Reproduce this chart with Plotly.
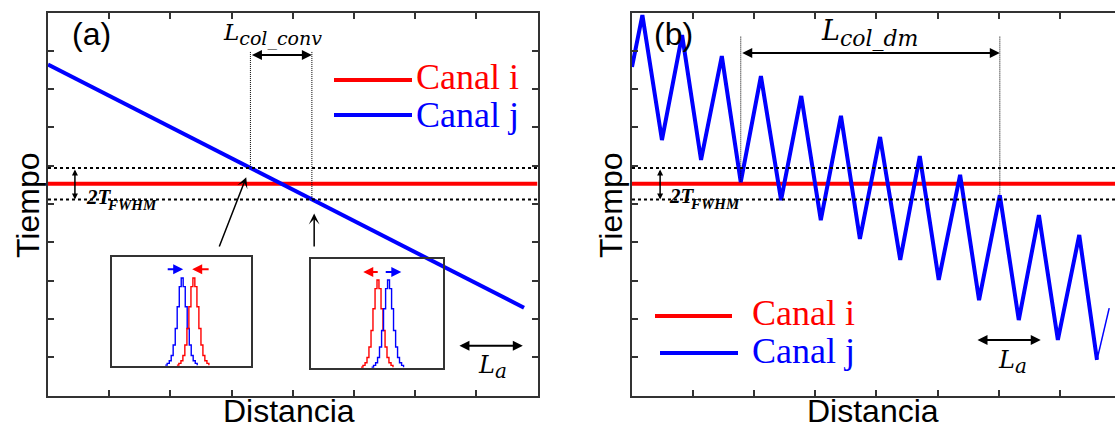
import plotly.graph_objects as go

W, H = 1115, 432

# ---------------- values ----------------
x_range_a = [0, 8]
x_range_b = [0, 7.905]
y_range = [0, 10]

canal_i_level = 5.53          # Canal i (constant time)
fwhm_half = 0.41              # half of the 2*T_FWHM band

# (a) conventional dispersion: Canal j is a straight line
canal_j_a_x = [0.0, 7.78]
canal_j_a_y = [8.64, 2.29]

# (b) dispersion-managed: Canal j zig-zags
canal_j_b_x = [0.00, 0.17, 0.49, 0.82, 1.13, 1.47, 1.78, 2.11, 2.44, 2.77, 3.09, 3.42, 3.73,
               4.06, 4.39, 4.71, 5.02, 5.37, 5.68, 6.02, 6.33, 6.66, 6.97, 7.32, 7.61]
canal_j_b_y = [8.58, 9.93, 6.67, 9.41, 6.15, 8.86, 5.57, 8.34, 5.10, 7.82, 4.58, 7.30, 4.09,
               6.75, 3.54, 6.25, 3.02, 5.76, 2.49, 5.23, 1.97, 4.71, 1.45, 4.19, 0.93]
canal_j_b_tail_x = [7.61, 7.81]
canal_j_b_tail_y = [0.93, 2.28]

# pulse shape used in the two small insets
pulse_offsets = [-1.15, -1.01, -0.86, -0.72, -0.58, -0.43, -0.29, -0.14, 0.0,
                 0.14, 0.29, 0.43, 0.58, 0.72, 0.86, 1.01, 1.15]
pulse_profile = [0.0, 0.02, 0.05, 0.11, 0.23, 0.42, 0.67, 0.9, 1.0,
                 0.9, 0.67, 0.42, 0.23, 0.11, 0.05, 0.02, 0.0]
inset1_center_j, inset1_center_i = -0.02, 0.82
inset2_center_i, inset2_center_j = 0.0, 0.76

RED = "#ff0000"
BLUE = "#0000ff"
AX = "#333333"
SANS = "Liberation Sans"
SERIF = "Liberation Serif"
MATH = "DejaVu Serif"

fig = go.Figure()

# ---- panel (a) ----
fig.add_trace(go.Scatter(x=list(x_range_a), y=[canal_i_level] * 2, mode="lines",
                         line=dict(color=RED, width=4), xaxis="x", yaxis="y"))
fig.add_trace(go.Scatter(x=canal_j_a_x, y=canal_j_a_y, mode="lines",
                         line=dict(color=BLUE, width=4), xaxis="x", yaxis="y"))

# ---- panel (b) ----
fig.add_trace(go.Scatter(x=list(x_range_b), y=[canal_i_level] * 2, mode="lines",
                         line=dict(color=RED, width=4), xaxis="x2", yaxis="y2"))
fig.add_trace(go.Scatter(x=canal_j_b_x, y=canal_j_b_y, mode="lines",
                         line=dict(color=BLUE, width=4), xaxis="x2", yaxis="y2"))
fig.add_trace(go.Scatter(x=canal_j_b_tail_x, y=canal_j_b_tail_y, mode="lines",
                         line=dict(color=BLUE, width=1.5), xaxis="x2", yaxis="y2"))

# ---- insets with the two pulses ----
def pulse(center):
    return [center + o for o in pulse_offsets]

for c, col, xa, ya in [(inset1_center_j, BLUE, "x3", "y3"), (inset1_center_i, RED, "x3", "y3"),
                       (inset2_center_i, RED, "x4", "y4"), (inset2_center_j, BLUE, "x4", "y4")]:
    fig.add_trace(go.Scatter(x=pulse(c), y=pulse_profile, mode="lines", line_shape="hv",
                             line=dict(color=col, width=1.4), xaxis=xa, yaxis=ya))

# ---- band lines and collision-length markers ----
slope_a = (canal_j_a_y[1] - canal_j_a_y[0]) / (canal_j_a_x[1] - canal_j_a_x[0])
band_top = canal_i_level + fwhm_half
band_bot = canal_i_level - fwhm_half
x_enter = (band_top - canal_j_a_y[0]) / slope_a
x_exit = (band_bot - canal_j_a_y[0]) / slope_a

shapes = []
for lvl in (band_top, band_bot):
    shapes.append(dict(type="line", xref="x", yref="y", x0=x_range_a[0], x1=x_range_a[1],
                       y0=lvl, y1=lvl, line=dict(color="black", width=2, dash="dot")))
    shapes.append(dict(type="line", xref="x2", yref="y2", x0=x_range_b[0], x1=x_range_b[1],
                       y0=lvl, y1=lvl, line=dict(color="black", width=2, dash="dot")))
for xv, yv in [(x_enter, band_top), (x_exit, band_bot)]:
    shapes.append(dict(type="line", xref="x", yref="y", x0=xv, x1=xv, y0=8.97, y1=yv,
                       line=dict(color="black", width=1, dash="1px,1px")))
i0, i1 = 6, 19
for k in (i0, i1):
    shapes.append(dict(type="line", xref="x2", yref="y2", x0=canal_j_b_x[k], x1=canal_j_b_x[k],
                       y0=9.37, y1=canal_j_b_y[k], line=dict(color="black", width=1, dash="1px,1px")))

# legend samples
shapes += [
    dict(type="line", xref="paper", yref="paper", x0=334 / W, x1=412 / W, y0=1 - 80 / H, y1=1 - 80 / H,
         line=dict(color=RED, width=4)),
    dict(type="line", xref="paper", yref="paper", x0=334 / W, x1=412 / W, y0=1 - 115 / H, y1=1 - 115 / H,
         line=dict(color=BLUE, width=4)),
    dict(type="line", xref="paper", yref="paper", x0=655 / W, x1=732 / W, y0=1 - 316 / H, y1=1 - 316 / H,
         line=dict(color=RED, width=4)),
    dict(type="line", xref="paper", yref="paper", x0=660 / W, x1=738 / W, y0=1 - 353 / H, y1=1 - 353 / H,
         line=dict(color=BLUE, width=4)),
]


def ptext(xpx, ypx, text, size, color="black", family=SANS, angle=0, xanchor="center"):
    return dict(x=xpx / W, y=1 - ypx / H, xref="paper", yref="paper", text=text, showarrow=False,
                font=dict(family=family, size=size, color=color), textangle=angle,
                xanchor=xanchor, yanchor="middle")


def arrow(xr, yr, x0, y0, x1, y1, both=True, width=2, size=1, head=2, color="black"):
    return dict(xref=xr, yref=yr, axref=xr, ayref=yr, x=x1, y=y1, ax=x0, ay=y0, text="",
                showarrow=True, arrowside="end+start" if both else "end", arrowhead=head,
                startarrowhead=head, arrowsize=size, startarrowsize=size, arrowwidth=width,
                arrowcolor=color, standoff=0, startstandoff=0)


ann = [
    ptext(91, 34, "(a)", 32),
    ptext(673, 34, "(b)", 32),
    ptext(28, 205, "Tiempo", 32, angle=-90),
    ptext(611, 205, "Tiempo", 32, angle=-90),
    dict(ptext(289, 431, "Distancia", 32), yanchor="bottom"),
    dict(ptext(873, 431, "Distancia", 32), yanchor="bottom"),
    ptext(414, 77, "Canal i", 36, RED, SERIF, xanchor="left"),
    ptext(414, 115, "Canal j", 36, BLUE, SERIF, xanchor="left"),
    ptext(750, 313, "Canal i", 36, RED, SERIF, xanchor="left"),
    ptext(750, 351, "Canal j", 36, BLUE, SERIF, xanchor="left"),
    ptext(272, 35, "<i>L<sub><span style='font-size:19px'>col_conv</span></sub></i>", 23, family=MATH),
    ptext(869, 33, "<i>L<sub><span style='font-size:22px'>col_dm</span></sub></i>", 27, family=MATH),
    ptext(492, 367, "<i>L<sub><span style='font-size:20px'>a</span></sub></i>", 24, family=MATH),
    ptext(1012, 362, "<i>L<sub><span style='font-size:20px'>a</span></sub></i>", 24, family=MATH),
    ptext(84, 197, "<b><i>2T</i></b>", 21, family=SERIF, xanchor="left"),
    ptext(105, 205, "<b><i>FWHM</i></b>", 15, family=SERIF, xanchor="left"),
    ptext(667, 196, "<b><i>2T</i></b>", 21, family=SERIF, xanchor="left"),
    ptext(688, 204, "<b><i>FWHM</i></b>", 15, family=SERIF, xanchor="left"),
    # collision length arrows
    arrow("x", "y", x_enter, 8.89, x_exit, 8.89),
    arrow("x2", "y2", canal_j_b_x[i0], 8.94, canal_j_b_x[i1], 8.94),
    arrow("x", "y", 6.70, 1.30, 7.76, 1.30),
    arrow("x2", "y2", 5.63, 1.45, 6.69, 1.45),
    # 2T_FWHM band markers
    arrow("x", "y", 0.44, band_top, 0.44, band_bot, width=1.5, size=0.8),
    arrow("x2", "y2", 0.46, band_top, 0.46, band_bot, width=1.5, size=0.8),
    # pointers from the insets to the band edges
    arrow("x", "y", 2.79, 3.85, 3.24, 5.70, both=False, width=1.5, size=1.2, head=3),
    arrow("x", "y", 4.35, 3.85, 4.35, 4.75, both=False, width=1.5, size=1.2, head=3),
    # pulse walk-off arrows in the insets
    arrow("x3", "y3", -1.10, 1.10, 0.12, 1.10, both=False, width=2, size=1, head=2, color=BLUE),
    arrow("x3", "y3", 2.06, 1.10, 0.77, 1.10, both=False, width=2, size=1, head=2, color=RED),
    arrow("x4", "y4", 0.16, 1.09, -0.99, 1.09, both=False, width=2, size=1, head=2, color=RED),
    arrow("x4", "y4", 0.52, 1.09, 1.75, 1.09, both=False, width=2, size=1, head=2, color=BLUE),
]

y_top, y_bot = 12.5, 395.5
main_axis = dict(showgrid=False, zeroline=False, showticklabels=False, ticks="inside", ticklen=6,
                 tickwidth=1.5, tickcolor=AX, dtick=1, tick0=0, showline=True, linewidth=2,
                 linecolor=AX)
inset_axis = dict(showgrid=False, zeroline=False, showticklabels=False, ticks="", showline=True,
                  mirror=True, linewidth=2, linecolor=AX)

fig.update_layout(
    width=W, height=H, margin=dict(l=0, r=0, t=0, b=0),
    paper_bgcolor="white", plot_bgcolor="rgba(0,0,0,0)", showlegend=False,
    xaxis=dict(main_axis, domain=[48 / W, 537.5 / W], range=x_range_a, mirror="ticks", anchor="y"),
    yaxis=dict(main_axis, domain=[1 - y_bot / H, 1 - y_top / H], range=y_range, mirror="ticks", anchor="x"),
    xaxis2=dict(main_axis, domain=[632 / W, 1.0], range=x_range_b, mirror="ticks", anchor="y2"),
    yaxis2=dict(main_axis, domain=[1 - y_bot / H, 1 - y_top / H], range=y_range, mirror=False, anchor="x2"),
    xaxis3=dict(inset_axis, domain=[112 / W, 251 / W], range=[-5, 5], anchor="y3"),
    yaxis3=dict(inset_axis, domain=[1 - 366 / H, 1 - 257 / H], range=[-0.01, 1.24], anchor="x3"),
    xaxis4=dict(inset_axis, domain=[311 / W, 443 / W], range=[-4.75, 4.75], anchor="y4"),
    yaxis4=dict(inset_axis, domain=[1 - 368 / H, 1 - 259 / H], range=[-0.01, 1.24], anchor="x4"),
    shapes=shapes,
    annotations=ann,
)

fig.write_html("out.html")
